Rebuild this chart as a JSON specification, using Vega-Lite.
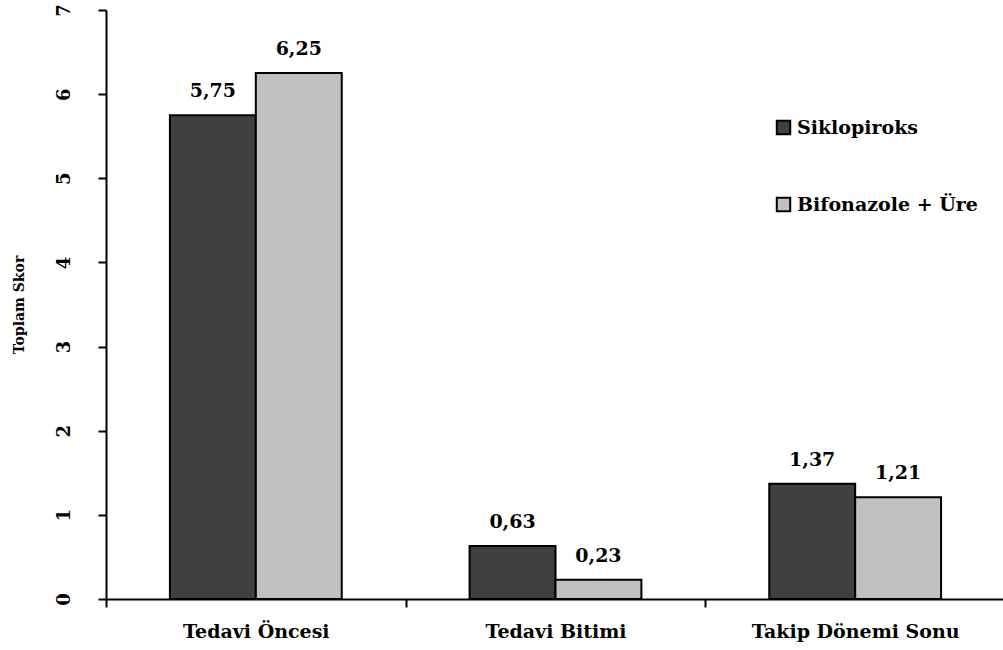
{
  "$schema": "https://vega.github.io/schema/vega-lite/v6.json",
  "autosize": "none",
  "width": 899,
  "height": 589,
  "padding": {"left": 106, "top": 10, "right": 0, "bottom": 51},
  "background": "white",
  "config": {
    "view": {"stroke": null},
    "font": "DejaVu Serif",
    "axis": {"grid": false, "domainColor": "black", "domainWidth": 2, "tickColor": "black", "tickWidth": 2, "tickSize": 8, "labelColor": "black", "titleColor": "black", "labelFont": "DejaVu Serif", "titleFont": "DejaVu Serif", "labelFontWeight": "bold", "titleFontWeight": "bold", "labelLimit": 0}
  },
  "data": {
    "values": [
      {"donem": "Tedavi Öncesi", "grup": "Siklopiroks", "skor": 5.75, "etiket": "5,75"},
      {"donem": "Tedavi Öncesi", "grup": "Bifonazole + Üre", "skor": 6.25, "etiket": "6,25"},
      {"donem": "Tedavi Bitimi", "grup": "Siklopiroks", "skor": 0.63, "etiket": "0,63"},
      {"donem": "Tedavi Bitimi", "grup": "Bifonazole + Üre", "skor": 0.23, "etiket": "0,23"},
      {"donem": "Takip Dönemi Sonu", "grup": "Siklopiroks", "skor": 1.37, "etiket": "1,37"},
      {"donem": "Takip Dönemi Sonu", "grup": "Bifonazole + Üre", "skor": 1.21, "etiket": "1,21"}
    ]
  },
  "encoding": {
    "x": {
      "field": "donem", "type": "nominal", "sort": null,
      "scale": {"paddingInner": 0, "paddingOuter": 0},
      "axis": {"title": null, "labelAngle": 0, "labelFontSize": 19, "labelPadding": 15, "tickBand": "extent"}
    },
    "xOffset": {"field": "grup", "type": "nominal", "sort": ["Siklopiroks", "Bifonazole + Üre"], "scale": {"paddingInner": 0, "paddingOuter": 0.744}},
    "y": {
      "field": "skor", "type": "quantitative",
      "scale": {"domain": [0, 7], "nice": false},
      "axis": {"title": "Toplam Skor", "titleFontSize": 14, "titlePadding": 29, "values": [0, 1, 2, 3, 4, 5, 6, 7], "labelAngle": 270, "labelFontSize": 18, "labelPadding": 25, "labelAlign": "center", "labelBaseline": "bottom"}
    }
  },
  "layer": [
    {
      "mark": {"type": "bar", "stroke": "black", "strokeWidth": 2},
      "encoding": {
        "color": {
          "field": "grup", "type": "nominal", "sort": ["Siklopiroks", "Bifonazole + Üre"],
          "scale": {"domain": ["Siklopiroks", "Bifonazole + Üre"], "range": ["#404040", "#c0c0c0"]},
          "legend": {
            "title": null, "orient": "none", "legendX": 668, "legendY": 108,
            "symbolType": "square", "symbolSize": 180, "symbolStrokeColor": "black", "symbolStrokeWidth": 2, "symbolOpacity": 1,
            "labelFont": "DejaVu Serif", "labelFontSize": 19, "labelFontWeight": "bold", "labelColor": "black", "labelLimit": 0,
            "rowPadding": 54, "labelOffset": 4
          }
        }
      }
    },
    {
      "mark": {"type": "text", "baseline": "bottom", "dy": -14, "fontSize": 19, "fontWeight": "bold", "color": "black", "font": "DejaVu Serif"},
      "encoding": {"text": {"field": "etiket", "type": "nominal"}}
    }
  ]
}
